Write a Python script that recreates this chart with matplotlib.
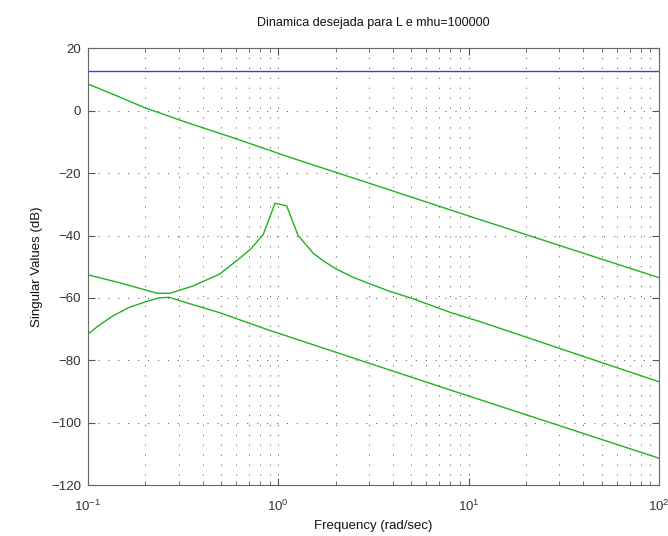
import matplotlib
matplotlib.use("Agg")
import matplotlib.pyplot as plt
import numpy as np
from matplotlib.ticker import LogLocator, NullFormatter, MultipleLocator

plt.rcParams['font.family'] = ['Liberation Sans', 'DejaVu Sans']

title = "Dinamica desejada para L e mhu=100000"
xlabel = "Frequency (rad/sec)"
ylabel = "Singular Values (dB)"

# Blue (constant) singular value
blue_f = [0.1, 100]
blue_db = [12.8, 12.8]

# Upper green singular value
g1_f = [0.1, 0.138, 0.1987, 0.333, 0.59, 1.124, 2.0, 3.0, 10.0, 35.4, 100]
g1_db = [8.6, 5.1, 1.0, -3.8, -8.8, -14.7, -19.7, -23.2, -33.7, -44.6, -53.5]

# Middle green singular value (with resonance peak)
g2_f = [0.1, 0.146, 0.231, 0.270, 0.355, 0.49, 0.6115, 0.717, 0.834, 0.961, 1.106,
        1.268, 1.527, 1.723, 1.985, 2.43, 3.03, 3.86, 5.12, 7.98, 11.47, 100]
g2_db = [-52.6, -55.1, -58.5, -58.5, -56.2, -52.4, -47.8, -44.3, -39.6, -29.6, -30.5,
         -39.9, -45.7, -48.1, -50.5, -53.2, -55.5, -57.9, -60.3, -64.6, -67.6, -86.9]

# Lower green singular value
g3_f = [0.1, 0.1147, 0.135, 0.165, 0.2018, 0.235, 0.267, 0.327, 0.49, 0.861,
        2.69, 7.98, 100]
g3_db = [-71.6, -68.7, -65.8, -63.0, -61.2, -60.0, -59.8, -61.5, -64.7, -70.0,
         -80.0, -89.5, -111.4]

xlim = (0.1, 100)
ylim = (-120, 20)

fig = plt.figure(figsize=(6.68, 5.36), dpi=100)
ax = fig.add_axes([88/668, 1 - 485/536, (659-88)/668, (485-48.5)/536])

green = '#22b022'
ax.plot(blue_f, blue_db, color='#4040e8', lw=1.0)
ax.plot(g1_f, g1_db, color=green, lw=1.0)
ax.plot(g2_f, g2_db, color=green, lw=1.0)
ax.plot(g3_f, g3_db, color=green, lw=1.0)

ax.set_xscale('log')
ax.set_xlim(*xlim)
ax.set_ylim(*ylim)
ax.yaxis.set_major_locator(MultipleLocator(20))
ax.xaxis.set_major_locator(LogLocator(base=10, numticks=10))
ax.xaxis.set_minor_locator(LogLocator(base=10, subs=np.arange(2, 10), numticks=20))
ax.xaxis.set_minor_formatter(NullFormatter())

gkw = dict(color='#666666', linestyle=(0, (1.2, 9)), linewidth=0.7)
ax.grid(True, which='both', axis='x', **gkw)
ax.grid(True, which='major', axis='y', **gkw)

ax.tick_params(which='both', direction='in', top=True, right=True, colors='#555555',
               labelsize=9.5, labelcolor='#333333')
ax.tick_params(which='major', length=5)
ax.tick_params(which='minor', length=3)
ax.tick_params(axis='x', which='both', pad=10)
ax.tick_params(axis='y', which='both', pad=5)
for s in ax.spines.values():
    s.set_color('#666666')
    s.set_linewidth(0.8)

ax.set_title(title, fontsize=9, pad=16.5, color='#111111')
ax.set_xlabel(xlabel, fontsize=9.5, color='#111111')
ax.set_ylabel(ylabel, fontsize=9.5, labelpad=6, color='#111111')

fig.savefig('out.png', dpi=100)
